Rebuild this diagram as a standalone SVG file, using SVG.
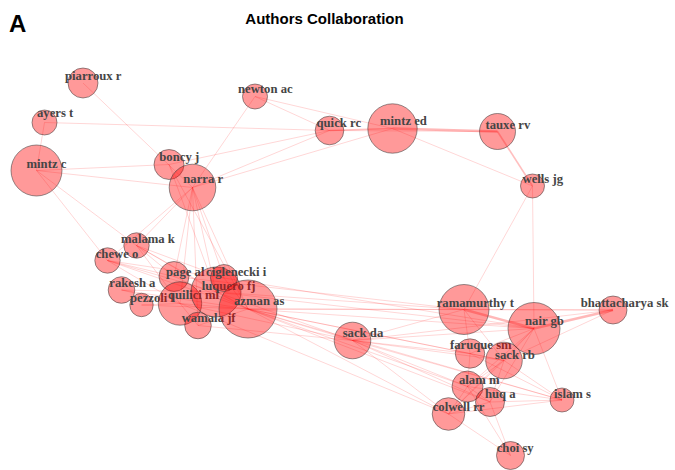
<svg xmlns="http://www.w3.org/2000/svg" width="675" height="470" viewBox="0 0 675 470">
<style>
.bg{fill:#ffffff}
.e line{stroke:#ff0000;stroke-opacity:0.18;stroke-width:0.9;fill:none}
.e line.t{stroke-opacity:0.28;stroke-width:2.6}
.e line.m{stroke-opacity:0.25;stroke-width:1.6}
.n circle{fill:#ff0000;fill-opacity:0.4;stroke:#333333;stroke-opacity:0.65;stroke-width:0.8}
.n text{font-family:"Liberation Serif","DejaVu Serif",serif;font-weight:bold;font-size:12.7px;fill:#454545}
.title{font-family:"Liberation Sans",Arial,sans-serif;font-weight:bold;fill:#000000}
</style>
<rect class="bg" x="0" y="0" width="675" height="470"/>
<text class="title" x="9" y="32" font-size="24">A</text>
<text class="title" x="324.5" y="24" font-size="15" text-anchor="middle">Authors Collaboration</text>
<g id="connectors" class="e">
<line x1="83" y1="83" x2="192.5" y2="187.5"/>
<line x1="44.5" y1="122.5" x2="329.5" y2="130.5"/>
<line x1="44.5" y1="122.5" x2="36.5" y2="170.5"/>
<line x1="36.5" y1="170.5" x2="169" y2="164.5"/>
<line x1="36.5" y1="170.5" x2="192.5" y2="187.5"/>
<line x1="36.5" y1="170.5" x2="107.5" y2="260.5"/>
<line x1="36.5" y1="170.5" x2="136.5" y2="245.5"/>
<line x1="255" y1="96.5" x2="192.5" y2="187.5"/>
<line x1="255" y1="96.5" x2="329.5" y2="130.5"/>
<line x1="255" y1="96.5" x2="392.5" y2="128.5"/>
<line x1="169" y1="164.5" x2="329.5" y2="130.5"/>
<line x1="192.5" y1="187.5" x2="329.5" y2="130.5"/>
<line x1="192.5" y1="187.5" x2="392.5" y2="128.5"/>
<line class="m" x1="329.5" y1="130.5" x2="392.5" y2="128.5"/>
<line x1="329.5" y1="130.5" x2="497.5" y2="131.5"/>
<line class="t" x1="392.5" y1="128.5" x2="497.5" y2="131.5"/>
<line x1="392.5" y1="128.5" x2="532.5" y2="186"/>
<line class="m" x1="497.5" y1="131.5" x2="532.5" y2="186"/>
<line x1="532.5" y1="186" x2="464" y2="309.5"/>
<line x1="532.5" y1="186" x2="534" y2="328.5"/>
<line x1="192.5" y1="187.5" x2="136.5" y2="245.5"/>
<line x1="192.5" y1="187.5" x2="107.5" y2="260.5"/>
<line x1="192.5" y1="187.5" x2="174" y2="276.5"/>
<line x1="192.5" y1="187.5" x2="180" y2="303.5"/>
<line x1="192.5" y1="187.5" x2="216" y2="292"/>
<line x1="192.5" y1="187.5" x2="248" y2="309"/>
<line x1="192.5" y1="187.5" x2="198" y2="325.5"/>
<line x1="192.5" y1="187.5" x2="224" y2="278"/>
<line x1="169" y1="164.5" x2="216" y2="292"/>
<line x1="169" y1="164.5" x2="248" y2="309"/>
<line x1="136.5" y1="245.5" x2="174" y2="276.5"/>
<line x1="136.5" y1="245.5" x2="180" y2="303.5"/>
<line x1="136.5" y1="245.5" x2="216" y2="292"/>
<line x1="136.5" y1="245.5" x2="248" y2="309"/>
<line x1="136.5" y1="245.5" x2="224" y2="278"/>
<line x1="107.5" y1="260.5" x2="174" y2="276.5"/>
<line x1="107.5" y1="260.5" x2="180" y2="303.5"/>
<line x1="107.5" y1="260.5" x2="216" y2="292"/>
<line x1="107.5" y1="260.5" x2="248" y2="309"/>
<line x1="107.5" y1="260.5" x2="224" y2="278"/>
<line x1="121.5" y1="290" x2="180" y2="303.5"/>
<line x1="121.5" y1="290" x2="216" y2="292"/>
<line x1="121.5" y1="290" x2="248" y2="309"/>
<line x1="141.5" y1="305" x2="180" y2="303.5"/>
<line x1="141.5" y1="305" x2="248" y2="309"/>
<line x1="174" y1="276.5" x2="248" y2="309"/>
<line x1="180" y1="303.5" x2="248" y2="309"/>
<line x1="216" y1="292" x2="248" y2="309"/>
<line x1="198" y1="325.5" x2="248" y2="309"/>
<line x1="198" y1="325.5" x2="180" y2="303.5"/>
<line x1="224" y1="278" x2="248" y2="309"/>
<line x1="248" y1="309" x2="352.5" y2="340.5"/>
<line x1="248" y1="309" x2="464" y2="309.5"/>
<line x1="248" y1="309" x2="534" y2="328.5"/>
<line x1="248" y1="309" x2="613" y2="310"/>
<line x1="248" y1="309" x2="470" y2="353.5"/>
<line x1="248" y1="309" x2="504" y2="360.5"/>
<line x1="248" y1="309" x2="467.5" y2="386.5"/>
<line x1="248" y1="309" x2="490" y2="402"/>
<line x1="248" y1="309" x2="448.5" y2="414"/>
<line x1="248" y1="309" x2="562" y2="400"/>
<line x1="216" y1="292" x2="464" y2="309.5"/>
<line x1="216" y1="292" x2="534" y2="328.5"/>
<line x1="216" y1="292" x2="352.5" y2="340.5"/>
<line x1="180" y1="303.5" x2="352.5" y2="340.5"/>
<line x1="180" y1="303.5" x2="448.5" y2="414"/>
<line x1="224" y1="278" x2="534" y2="328.5"/>
<line x1="198" y1="325.5" x2="352.5" y2="340.5"/>
<line x1="174" y1="276.5" x2="464" y2="309.5"/>
<line x1="352.5" y1="340.5" x2="464" y2="309.5"/>
<line x1="352.5" y1="340.5" x2="534" y2="328.5"/>
<line x1="352.5" y1="340.5" x2="470" y2="353.5"/>
<line x1="352.5" y1="340.5" x2="504" y2="360.5"/>
<line x1="352.5" y1="340.5" x2="467.5" y2="386.5"/>
<line x1="352.5" y1="340.5" x2="490" y2="402"/>
<line x1="352.5" y1="340.5" x2="448.5" y2="414"/>
<line x1="352.5" y1="340.5" x2="562" y2="400"/>
<line x1="352.5" y1="340.5" x2="613" y2="310"/>
<line class="t" x1="464" y1="309.5" x2="534" y2="328.5"/>
<line x1="464" y1="309.5" x2="613" y2="310"/>
<line class="t" x1="534" y1="328.5" x2="613" y2="310"/>
<line x1="464" y1="309.5" x2="470" y2="353.5"/>
<line x1="464" y1="309.5" x2="504" y2="360.5"/>
<line x1="534" y1="328.5" x2="470" y2="353.5"/>
<line x1="534" y1="328.5" x2="504" y2="360.5"/>
<line x1="534" y1="328.5" x2="467.5" y2="386.5"/>
<line x1="534" y1="328.5" x2="490" y2="402"/>
<line x1="534" y1="328.5" x2="562" y2="400"/>
<line x1="534" y1="328.5" x2="448.5" y2="414"/>
<line x1="613" y1="310" x2="504" y2="360.5"/>
<line x1="470" y1="353.5" x2="504" y2="360.5"/>
<line x1="470" y1="353.5" x2="467.5" y2="386.5"/>
<line x1="470" y1="353.5" x2="562" y2="400"/>
<line x1="504" y1="360.5" x2="467.5" y2="386.5"/>
<line x1="504" y1="360.5" x2="490" y2="402"/>
<line x1="504" y1="360.5" x2="562" y2="400"/>
<line x1="504" y1="360.5" x2="448.5" y2="414"/>
<line x1="467.5" y1="386.5" x2="490" y2="402"/>
<line x1="467.5" y1="386.5" x2="448.5" y2="414"/>
<line x1="467.5" y1="386.5" x2="562" y2="400"/>
<line x1="490" y1="402" x2="562" y2="400"/>
<line x1="490" y1="402" x2="448.5" y2="414"/>
<line x1="448.5" y1="414" x2="562" y2="400"/>
<line x1="448.5" y1="414" x2="510.5" y2="455.5"/>
<line x1="490" y1="402" x2="510.5" y2="455.5"/>
<line x1="467.5" y1="386.5" x2="510.5" y2="455.5"/>
</g>
<g id="node-piarroux-r" class="n"><circle cx="83" cy="83" r="15"/><text x="65" y="80">piarroux r</text></g>
<g id="node-newton-ac" class="n"><circle cx="255" cy="96.5" r="12.5"/><text x="238" y="93">newton ac</text></g>
<g id="node-ayers-t" class="n"><circle cx="44.5" cy="122.5" r="12.5"/><text x="37" y="117">ayers t</text></g>
<g id="node-quick-rc" class="n"><circle cx="329.5" cy="130.5" r="14.3"/><text x="316.5" y="126.7">quick rc</text></g>
<g id="node-mintz-ed" class="n"><circle cx="392.5" cy="128.5" r="24.7"/><text x="380" y="125">mintz ed</text></g>
<g id="node-tauxe-rv" class="n"><circle cx="497.5" cy="131.5" r="18"/><text x="485.5" y="129">tauxe rv</text></g>
<g id="node-wells-jg" class="n"><circle cx="532.5" cy="186" r="12"/><text x="522.5" y="183.3">wells jg</text></g>
<g id="node-mintz-c" class="n"><circle cx="36.5" cy="170.5" r="25.5"/><text x="26.5" y="167.5">mintz c</text></g>
<g id="node-boncy-j" class="n"><circle cx="169" cy="164.5" r="15"/><text x="159.3" y="161">boncy j</text></g>
<g id="node-narra-r" class="n"><circle cx="192.5" cy="187.5" r="23.3"/><text x="183.3" y="182.7">narra r</text></g>
<g id="node-malama-k" class="n"><circle cx="136.5" cy="245.5" r="12.7"/><text x="121" y="243.3">malama k</text></g>
<g id="node-chewe-o" class="n"><circle cx="107.5" cy="260.5" r="12.7"/><text x="95.7" y="257.7">chewe o</text></g>
<g id="node-rakesh-a" class="n"><circle cx="121.5" cy="290" r="13.3"/><text x="109.3" y="286.7">rakesh a</text></g>
<g id="node-pezzoli-l" class="n"><circle cx="141.5" cy="305" r="11.7"/><text x="130" y="301.7">pezzoli l</text></g>
<g id="node-page-al" class="n"><circle cx="174" cy="276.5" r="15"/><text x="166" y="276">page al</text></g>
<g id="node-quilici-ml" class="n"><circle cx="180" cy="303.5" r="21.7"/><text x="168" y="299.3">quilici ml</text></g>
<g id="node-luquero-fj" class="n"><circle cx="216" cy="292" r="25"/><text x="201.7" y="290">luquero fj</text></g>
<g id="node-ciglenecki-i" class="n"><circle cx="224" cy="278" r="13.5"/><text x="206" y="276">ciglenecki i</text></g>
<g id="node-wamala-jf" class="n"><circle cx="198" cy="325.5" r="13.3"/><text x="181.7" y="321.7">wamala jf</text></g>
<g id="node-azman-as" class="n"><circle cx="248" cy="309" r="29"/><text x="234" y="305">azman as</text></g>
<g id="node-sack-da" class="n"><circle cx="352.5" cy="340.5" r="18.3"/><text x="342.7" y="337.3">sack da</text></g>
<g id="node-ramamurthy-t" class="n"><circle cx="464" cy="309.5" r="25"/><text x="436.7" y="306.7">ramamurthy t</text></g>
<g id="node-nair-gb" class="n"><circle cx="534" cy="328.5" r="26"/><text x="525" y="325">nair gb</text></g>
<g id="node-bhattacharya-sk" class="n"><circle cx="613" cy="310" r="14"/><text x="580.7" y="306.7">bhattacharya sk</text></g>
<g id="node-faruque-sm" class="n"><circle cx="470" cy="353.5" r="14.7"/><text x="450" y="349.3">faruque sm</text></g>
<g id="node-sack-rb" class="n"><circle cx="504" cy="360.5" r="18.3"/><text x="495" y="359.3">sack rb</text></g>
<g id="node-alam-m" class="n"><circle cx="467.5" cy="386.5" r="15.5"/><text x="459" y="384">alam m</text></g>
<g id="node-huq-a" class="n"><circle cx="490" cy="402" r="14.5"/><text x="485" y="397.7">huq a</text></g>
<g id="node-islam-s" class="n"><circle cx="562" cy="400" r="12"/><text x="554" y="397.7">islam s</text></g>
<g id="node-colwell-rr" class="n"><circle cx="448.5" cy="414" r="16.3"/><text x="432.7" y="410.7">colwell rr</text></g>
<g id="node-choi-sy" class="n"><circle cx="510.5" cy="455.5" r="14"/><text x="496.7" y="451.7">choi sy</text></g>
</svg>
